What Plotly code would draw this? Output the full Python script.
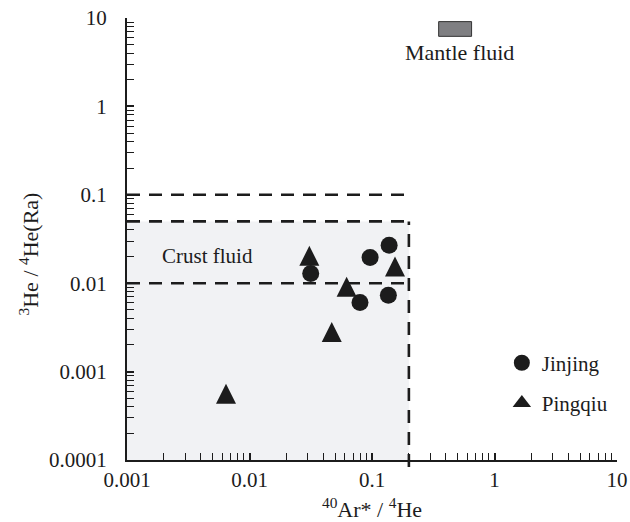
import numpy as np
import plotly.graph_objects as go

# ---- data ----
jinjing_x = [0.0316, 0.0965, 0.138, 0.0798, 0.136]
jinjing_y = [0.0129, 0.0195, 0.0269, 0.00605, 0.00731]
pingqiu_x = [0.0308, 0.154, 0.0621, 0.0469, 0.00643]
pingqiu_y = [0.0204, 0.0154, 0.0091, 0.0028, 0.00056]

x_tickvals = [0.001, 0.01, 0.1, 1, 10]
x_ticktext = ["0.001", "0.01", "0.1", "1", "10"]
y_tickvals = [0.0001, 0.001, 0.01, 0.1, 1, 10]
y_ticktext = ["0.0001", "0.001", "0.01", "0.1", "1", "10"]

crust_box_x = [0.001, 0.2]
crust_box_y = [0.0001, 0.05]
crust_line_y = [0.1, 0.05, 0.01]
mantle_box_x = [0.35, 0.65]
mantle_box_y = [6.2, 9.1]

X_RANGE = [-3, 1]
Y_RANGE = [-4, 1]

FONT = "Liberation Serif"
INK = "#1c1c1c"
TRI = 20

fig = go.Figure()

# data traces
fig.add_trace(go.Scatter(
    x=jinjing_x, y=jinjing_y, mode="markers", name="Jinjing", showlegend=False,
    marker=dict(symbol="circle", size=17, color=INK, line=dict(width=0)),
))
fig.add_trace(go.Scatter(
    x=pingqiu_x, y=pingqiu_y, mode="markers", name="Pingqiu", showlegend=False,
    marker=dict(symbol="arrow-down", angle=180, standoff=TRI / 2, size=TRI,
                color=INK, line=dict(width=0)),
))
# legend entries
fig.add_trace(go.Scatter(
    x=[None], y=[None], mode="markers", name="Jinjing", legendgroup="a",
    marker=dict(symbol="circle", size=16, color=INK, line=dict(width=0)),
))
fig.add_trace(go.Scatter(
    x=[None], y=[None], mode="markers", name="Pingqiu", legendgroup="b",
    marker=dict(symbol="triangle-up", size=16, color=INK, line=dict(width=0)),
))

dash = "13px,9px"
shapes = [
    dict(type="rect", xref="x", yref="y", x0=crust_box_x[0], x1=crust_box_x[1],
         y0=crust_box_y[0], y1=crust_box_y[1], fillcolor="#f1f2f4",
         line=dict(width=0), layer="below"),
    dict(type="rect", xref="x", yref="y", x0=mantle_box_x[0], x1=mantle_box_x[1],
         y0=mantle_box_y[0], y1=mantle_box_y[1], fillcolor="#7f7f82",
         line=dict(width=1, color="#333333"), layer="above"),
]
for yv in crust_line_y:
    shapes.append(dict(type="line", xref="x", yref="y", x0=crust_box_x[0], x1=crust_box_x[1],
                       y0=yv, y1=yv, line=dict(color=INK, width=2.6, dash=dash), layer="above"))
top_paper = (np.log10(crust_box_y[1]) - Y_RANGE[0]) / (Y_RANGE[1] - Y_RANGE[0])
shapes.append(dict(type="line", xref="x", yref="paper", x0=crust_box_x[1], x1=crust_box_x[1],
                   y0=-0.016, y1=top_paper, line=dict(color=INK, width=2.6, dash=dash),
                   layer="above"))

annotations = [
    dict(text="Mantle fluid", xref="x", yref="y", x=np.log10(0.52), y=np.log10(4.1),
         showarrow=False, font=dict(family=FONT, size=22, color=INK)),
    dict(text="Crust fluid", xref="x", yref="y", x=np.log10(0.0045), y=np.log10(0.0205),
         showarrow=False, font=dict(family=FONT, size=21, color=INK)),
    dict(text="<sup>3</sup>He / <sup>4</sup>He(Ra)", xref="paper", yref="paper",
         x=-0.2, y=0.465, xanchor="center", yanchor="middle", textangle=-90,
         showarrow=False, font=dict(family=FONT, size=22, color=INK)),
]

axis_common = dict(
    type="log", showgrid=False, zeroline=False, showline=True, linewidth=2.2,
    linecolor=INK, ticks="inside", ticklen=7, tickwidth=1.5, tickcolor=INK,
    mirror=False, automargin=False, tickfont=dict(family=FONT, size=21, color=INK),
    minor=dict(ticks="inside", ticklen=7, tickwidth=1.3, tickcolor=INK,
               dtick="D1", showgrid=False),
)

fig.update_layout(
    width=630, height=522,
    margin=dict(l=127, r=13, t=18, b=62),
    paper_bgcolor="white", plot_bgcolor="white",
    font=dict(family=FONT, size=21, color=INK),
    xaxis=dict(axis_common, range=X_RANGE, tickvals=x_tickvals, ticktext=x_ticktext,
               ticklabelstandoff=0,
               title=dict(text="<sup>40</sup>Ar* / <sup>4</sup>He",
                          font=dict(family=FONT, size=22, color=INK), standoff=14)),
    yaxis=dict(axis_common, range=Y_RANGE, tickvals=y_tickvals, ticktext=y_ticktext,
               ticklabelstandoff=14),
    shapes=shapes,
    annotations=annotations,
    legend=dict(x=0.765, y=0.174, xanchor="left", yanchor="middle",
                bgcolor="rgba(0,0,0,0)", font=dict(family=FONT, size=21, color=INK),
                itemsizing="trace", tracegroupgap=10, traceorder="grouped"),
    showlegend=True,
)

fig.write_html("out.html")
